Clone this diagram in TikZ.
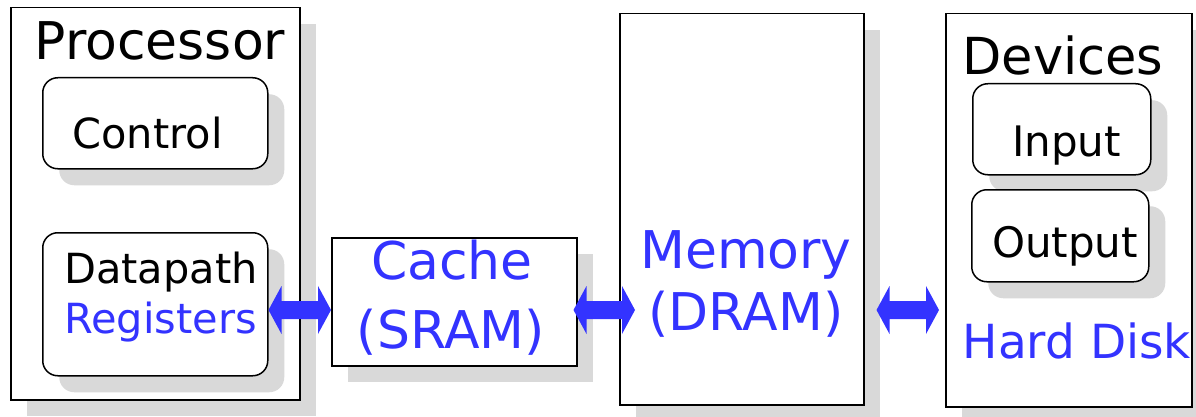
\documentclass[tikz,border=0pt]{standalone}
\usepackage{fontspec}
\setmainfont{DejaVu Sans}
\usetikzlibrary{shadows,calc}
\definecolor{busblue}{RGB}{51,51,255}
\definecolor{shadegray}{RGB}{217,217,217}
\newcommand{\busarrow}[2]{%
  \fill[busblue] (#1) -- ++(13,-24) -- ++(0,15) -- ($(#2)+(-13,-9)$) -- ++(0,-15) -- (#2)
    -- ++(-13,24) -- ++(0,-15) -- ($(#1)+(13,9)$) -- ++(0,15) -- cycle;}

\begin{document}
\begin{tikzpicture}[x=1pt,y=-1pt,
    unit/.style={draw, line width=1.5pt, fill=white, inner sep=0, anchor=north west,
      general shadow={fill=shadegray, shadow xshift=16.5pt, shadow yshift=-16.5pt}},
    part/.style={unit, rounded corners=15pt},
    lbl/.style={inner sep=0, anchor=base},
    big/.style={lbl, font=\fontsize{52}{60}\selectfont},
    small/.style={lbl, font=\fontsize{41.5}{48}\selectfont}]

        \useasboundingbox (0,0) rectangle (1196,417);

        \node[unit, minimum width=289, minimum height=392] (proc) at (10,7) {};
        \node[part, minimum width=225, minimum height=91] (ctrl) at (42,77) {};
        \node[part, minimum width=225, minimum height=143] (dpath) at (42,232) {};

        \node[unit, minimum width=245, minimum height=128] (cache) at (331,237) {};
        \node[unit, minimum width=244, minimum height=391] (mem) at (619,13) {};

        \node[unit, minimum width=246, minimum height=393] (dev) at (945,13) {};
        \node[part, minimum width=178, minimum height=91] (inp) at (972,83) {};
        \node[part, minimum width=177, minimum height=92] (outp) at (971,189) {};

        \node[big] (proclbl) at (160,60) {Processor};
        \node[small] (ctrllbl) at (147.5,148) {Control};
        \node[small, anchor=base west] (dpathlbl) at (64,283) {Datapath};
        \node[small, anchor=base west, text=busblue] (reglbl) at (64,333) {Registers};

        \node[big, text=busblue] (cachelbl) at (452,279) {Cache};
        \node[big, text=busblue] (sramlbl) at (451,348) {(SRAM)};

        \node[big, text=busblue] (memlbl) at (746,268) {Memory};
        \node[big, text=busblue] (dramlbl) at (746,330) {(DRAM)};

        \node[big, font=\fontsize{51}{60}\selectfont] (devlbl) at (1063,75) {Devices};
        \node[small, font=\fontsize{42}{48}\selectfont] (inplbl) at (1066.5,157) {Input};
        \node[small, font=\fontsize{42}{48}\selectfont] (outplbl) at (1065,257) {Output};
        \node[lbl, font=\fontsize{47}{54}\selectfont, text=busblue] (disklbl) at (1077,358) {Hard Disk};

        \coordinate (bus) at (0,310);
        \coordinate (c1) at ($(cache.east |- bus)+(-4,0)$);
        \coordinate (m1) at ($(mem.west |- bus)+(16,0)$);
        \coordinate (m2) at ($(mem.east |- bus)+(12,0)$);
        \coordinate (d1) at ($(dev.west |- bus)+(-6,0)$);

        \busarrow{dpath.east |- bus}{cache.west |- bus}
        \busarrow{c1}{m1}
        \busarrow{m2}{d1}
    \end{tikzpicture}
\end{document}
